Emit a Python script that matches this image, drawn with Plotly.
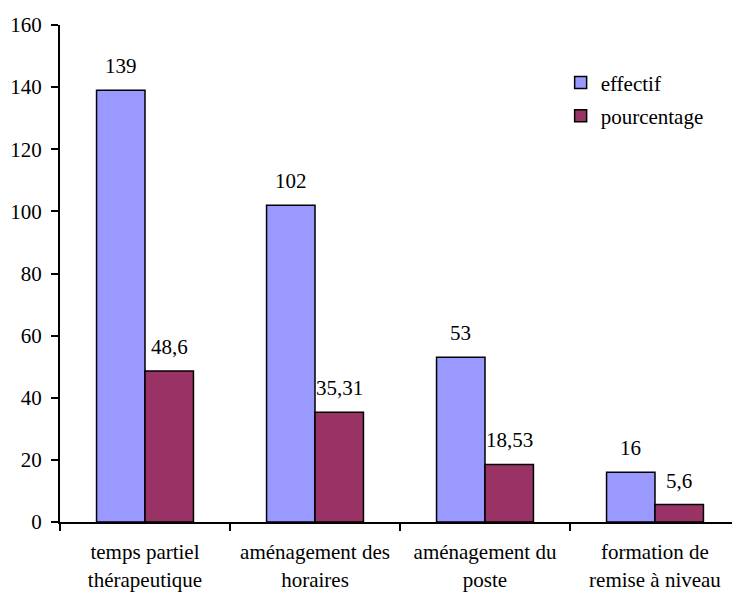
import plotly.graph_objects as go

categories = ["temps partiel<br>thérapeutique", "aménagement des<br>horaires",
              "aménagement du<br>poste", "formation de<br>remise à niveau"]
effectif = [139, 102, 53, 16]
pourcentage = [48.6, 35.31, 18.53, 5.6]
y_ticks = [0, 20, 40, 60, 80, 100, 120, 140, 160]

FONT = "Liberation Serif, Times New Roman, serif"
FS = 21
BLUE = "#9999FF"
MAROON = "#993366"

def fr(v):
    s = ("%g" % v)
    return s.replace(".", ",")

fig = go.Figure()
fig.add_trace(go.Bar(name="effectif", x=categories, y=effectif,
                     marker=dict(color=BLUE, line=dict(color="black", width=1.5)),
                     legendgroup="a"))
fig.add_trace(go.Bar(name="pourcentage", x=categories, y=pourcentage,
                     marker=dict(color=MAROON, line=dict(color="black", width=1.5)),
                     legendgroup="b"))

annotations = []
half = 24.5
for c, v in zip(categories, effectif):
    annotations.append(dict(x=c, y=v, xref="x", yref="y", text=fr(v), showarrow=False,
                            xshift=-half, yanchor="bottom", yshift=10,
                            font=dict(family=FONT, size=FS, color="black")))
for c, v in zip(categories, pourcentage):
    annotations.append(dict(x=c, y=v, xref="x", yref="y", text=fr(v), showarrow=False,
                            xshift=half, yanchor="bottom", yshift=10,
                            font=dict(family=FONT, size=FS, color="black")))

fig.update_layout(
    width=732, height=592,
    margin=dict(l=60, r=0, t=25, b=70),
    paper_bgcolor="white", plot_bgcolor="white",
    barmode="group", bargap=0.43, bargroupgap=0,
    font=dict(family=FONT, size=FS, color="black"),
    showlegend=True,
    legend=dict(x=0.745, y=0.925, xanchor="left", yanchor="top",
                font=dict(family=FONT, size=FS, color="black"),
                bgcolor="rgba(0,0,0,0)", traceorder="grouped", tracegroupgap=3,
                itemwidth=30),
    annotations=annotations,
    xaxis=dict(type="category", range=[-0.5, 3.453], showline=True, linecolor="black",
               linewidth=2, ticks="outside", tickson="boundaries", ticklen=7,
               tickwidth=2, tickcolor="black", showgrid=False, zeroline=False,
               automargin=False, ticklabelstandoff=10,
               tickfont=dict(family=FONT, size=FS, color="black")),
    yaxis=dict(range=[0, 160], tickvals=y_ticks, showline=True, linecolor="black",
               linewidth=2, ticks="outside", ticklen=7, tickwidth=2, tickcolor="black",
               showgrid=False, zeroline=False, ticklabelstandoff=5, automargin=False,
               tickfont=dict(family=FONT, size=FS, color="black")),
)

fig.write_html("out.html", config={"displayModeBar": False},
               post_script="document.body.style.margin='0';")
